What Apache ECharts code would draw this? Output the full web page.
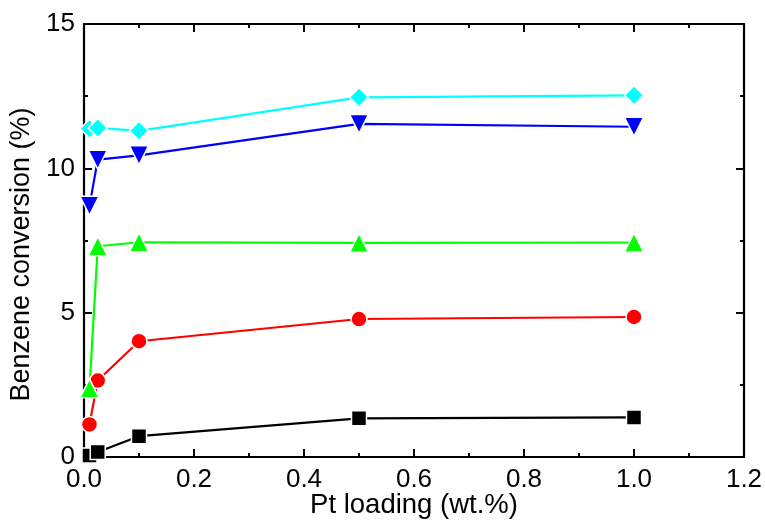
<!DOCTYPE html>
<html>
<head>
<meta charset="utf-8">
<script src="https://cdn.jsdelivr.net/npm/echarts@6/dist/echarts.min.js"></script>
<style>html,body{margin:0;padding:0;background:#fff}#c{width:765px;height:525px}</style>
</head>
<body>
<div id="c"></div>
<script>
var ptLoading = [0.01, 0.025, 0.1, 0.5, 1.0];
var seriesBlack = [0.05, 0.17, 0.72, 1.34, 1.37];
var seriesRed = [1.13, 2.65, 4.01, 4.78, 4.85];
var seriesGreen = [2.38, 7.3, 7.44, 7.42, 7.43];
var seriesBlue = [8.7, 10.3, 10.45, 11.54, 11.44];
var seriesCyan = [11.37, 11.4, 11.3, 12.46, 12.53];
var xTicks = {min: 0, max: 1.2, interval: 0.2};
var yTicks = {min: 0, max: 15, interval: 5};

var FONT = '"Liberation Sans", Arial, sans-serif';
function pairs(ys){ return ptLoading.map(function(x,i){ return [x, ys[i]]; }); }
function mk(name, ys, color, symbol, size, rot){
  return {
    name: name, type: 'line', data: pairs(ys),
    symbol: symbol, symbolSize: size, symbolRotate: rot || 0,
    lineStyle: {color: color, width: 2.2},
    itemStyle: {color: color, borderColor: '#fff', borderWidth: 1.5},
    clip: true, animation: false, z: 3
  };
}
var axisCommon = {
  axisLine: {show: true, onZero: false, lineStyle: {color: '#000', width: 2.2}},
  axisTick: {show: true, inside: true, length: 8, lineStyle: {color: '#000', width: 2}},
  minorTick: {show: true, splitNumber: 2, length: 4, lineStyle: {color: '#000', width: 2}},
  splitLine: {show: false}
};
function ax(base, extra){ return Object.assign({}, JSON.parse(JSON.stringify(axisCommon)), base, extra); }

var chart = echarts.init(document.getElementById('c'), null, {renderer: 'canvas'});
chart.setOption({
  backgroundColor: '#fff',
  animation: false,
  grid: {left: 84, right: 21, top: 24, bottom: 68, containLabel: false, outerBoundsMode: 'none'},
  xAxis: [
    ax({type: 'value', min: xTicks.min, max: xTicks.max, interval: xTicks.interval}, {
      position: 'bottom',
      name: 'Pt loading (wt.%)', nameLocation: 'middle', nameGap: 34, nameMoveOverlap: false,
      nameTextStyle: {fontFamily: FONT, fontSize: 27.5, color: '#000'},
      axisLabel: {fontFamily: FONT, fontSize: 26, color: '#000', margin: 10,
        formatter: function(v){ return v.toFixed(1); }}
    }),
    ax({type: 'value', min: xTicks.min, max: xTicks.max, interval: xTicks.interval}, {
      position: 'top', axisLabel: {show: false}
    })
  ],
  yAxis: [
    ax({type: 'value', min: yTicks.min, max: yTicks.max, interval: yTicks.interval}, {
      position: 'left',
      name: 'Benzene conversion (%)', nameLocation: 'middle', nameGap: 48,
      nameTextStyle: {fontFamily: FONT, fontSize: 27, color: '#000', padding: [0, 28, 0, 0]},
      axisLabel: {fontFamily: FONT, fontSize: 26, color: '#000', margin: 9}
    }),
    ax({type: 'value', min: yTicks.min, max: yTicks.max, interval: yTicks.interval}, {
      position: 'right', axisLabel: {show: false}
    })
  ],
  series: [
    mk('black', seriesBlack, '#000000', 'rect', 15),
    mk('red', seriesRed, '#ff0000', 'circle', 16),
    mk('green', seriesGreen, '#00ff00', 'triangle', 19),
    mk('blue', seriesBlue, '#0000ff', 'triangle', 19, 180),
    mk('cyan', seriesCyan, '#00ffff', 'diamond', 19)
  ]
});
</script>
</body>
</html>
